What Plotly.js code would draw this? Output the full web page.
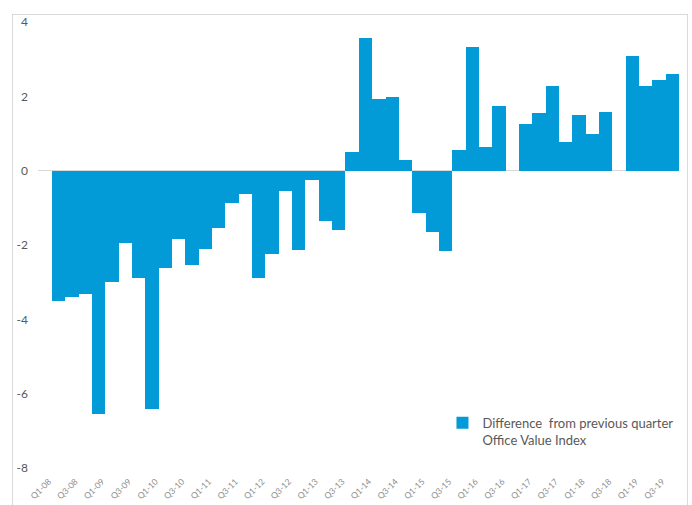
<!DOCTYPE html>
<html>
<head>
<meta charset="utf-8">
<script src="https://cdn.plot.ly/plotly-3.0.1.min.js"></script>
<style>
  html, body { margin: 0; padding: 0; background: #ffffff; }
  #chart { width: 692px; height: 505px; position: absolute; left: 0; top: 0; }
  #frame { position: absolute; left: 12px; top: 14px; width: 674px; height: 500px;
           border: 1px solid #d9d9d9; pointer-events: none; }
</style>
</head>
<body>
<div id="chart"></div>
<div id="frame"></div>
<script>
const quarters = [
  "Q1-08","Q2-08","Q3-08","Q4-08",
  "Q1-09","Q2-09","Q3-09","Q4-09",
  "Q1-10","Q2-10","Q3-10","Q4-10",
  "Q1-11","Q2-11","Q3-11","Q4-11",
  "Q1-12","Q2-12","Q3-12","Q4-12",
  "Q1-13","Q2-13","Q3-13","Q4-13",
  "Q1-14","Q2-14","Q3-14","Q4-14",
  "Q1-15","Q2-15","Q3-15","Q4-15",
  "Q1-16","Q2-16","Q3-16","Q4-16",
  "Q1-17","Q2-17","Q3-17","Q4-17",
  "Q1-18","Q2-18","Q3-18","Q4-18",
  "Q1-19","Q2-19","Q3-19"
];
const differenceValues = [
  -3.51, -3.41, -3.33, -6.56,
  -2.99, -1.94, -2.88, -6.41,
  -2.63, -1.85, -2.55, -2.10,
  -1.54, -0.87, -0.63, -2.88,
  -2.23, -0.56, -2.14, -0.24,
  -1.36, -1.60, 0.49, 3.57,
  1.94, 1.97, 0.30, -1.14,
  -1.65, -2.15, 0.55, 3.34,
  0.63, 1.75, 0, 1.26,
  1.55, 2.28, 0.76, 1.49,
  0.99, 1.57, 0, 3.09,
  2.29, 2.43, 2.61
];
const tickLabels = [
  "Q1-08","Q3-08","Q1-09","Q3-09","Q1-10","Q3-10","Q1-11","Q3-11",
  "Q1-12","Q3-12","Q1-13","Q3-13","Q1-14","Q3-14","Q1-15","Q3-15",
  "Q1-16","Q3-16","Q1-17","Q3-17","Q1-18","Q3-18","Q1-19","Q3-19"
];
const yTicks = [-8, -6, -4, -2, 0, 2, 4];
const seriesName = "Difference  from previous quarter<br>Office Value Index";

const trace = {
  type: "bar",
  x: quarters,
  y: differenceValues,
  name: seriesName,
  marker: { color: "#039bd7", line: { width: 0 } },
  showlegend: true,
  hoverinfo: "x+y"
};

const layout = {
  width: 692,
  height: 505,
  margin: { l: 38, r: 13, t: 22, b: 37, autoexpand: false },
  paper_bgcolor: "#ffffff",
  plot_bgcolor: "#ffffff",
  font: { family: "Lato, 'Open Sans', sans-serif", color: "#595959", size: 11 },
  bargap: 0,
  showlegend: true,
  xaxis: {
    type: "category",
    range: [-1.55, 46.5],
    tickmode: "array",
    tickvals: tickLabels,
    ticktext: tickLabels,
    tickangle: -45,
    tickfont: { size: 8.5, color: "#8c8c8c" },
    ticklabelshift: -10,
    ticklabelstandoff: 6,
    showgrid: false,
    showline: false,
    zeroline: false,
    automargin: false,
    ticks: ""
  },
  yaxis: {
    range: [-8, 4],
    tickmode: "array",
    tickvals: yTicks,
    ticktext: yTicks.map(String),
    tickfont: { size: 12, color: "#595959" },
    showgrid: false,
    zeroline: true,
    zerolinecolor: "#d9d9d9",
    zerolinewidth: 1,
    showline: false,
    automargin: false,
    ticks: "",
    ticklabelstandoff: 9
  },
  legend: {
    x: 0.631,
    y: 0.135,
    xanchor: "left",
    yanchor: "top",
    bgcolor: "rgba(0,0,0,0)",
    font: { size: 13, color: "#595959" },
    valign: "top"
  }
};

Plotly.newPlot("chart", [trace], layout, { displayModeBar: false, staticPlot: true });
</script>
</body>
</html>
